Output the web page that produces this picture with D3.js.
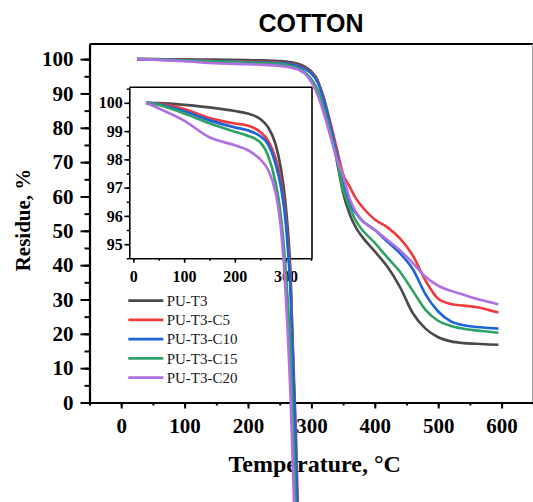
<!DOCTYPE html>
<html><head><meta charset="utf-8">
<script src="https://cdn.jsdelivr.net/npm/d3@7"></script>
<style>body{margin:0;background:#fff}svg{display:block}</style>
</head><body>
<svg id="c" width="533" height="502"></svg>
<script>
const temps = [25,50,100,150,200,225,250,265,280,290,300,310,320,330,340,350,360,370,380,400,420,440,460,480,500,520,540,560,580,595];
const seriesNames = ["PU-T3","PU-T3-C5","PU-T3-C10","PU-T3-C15","PU-T3-C20"];
const puT3    = [100,99.99,99.93,99.84,99.71,99.62,99.43,99.15,98.55,97.75,96.4,93.8,87.5,79.5,70.5,61,55,51,48.3,44,39.5,33.5,26,21.5,19,17.8,17.3,17.1,16.9,16.8];
const puT3C5  = [100,99.97,99.78,99.46,99.27,99.2,98.97,98.68,98.05,97.3,96.0,93.5,88.5,81.5,74,66.5,63,59.5,57,53.3,51,47.7,42.8,35.5,30.2,28.7,28.2,27.8,26.9,26.2];
const puT3C10 = [100,99.95,99.7,99.38,99.13,99.03,98.82,98.55,97.85,97.1,95.8,93.2,88,80.5,72.5,64,58,55.2,53,50.2,46.8,43.4,38.8,31.5,26.5,23.6,22.5,22,21.7,21.5];
const puT3C15 = [100,99.93,99.62,99.28,98.98,98.84,98.6,98.15,97.2,96.1,94.1,91,85.5,78.5,71,62,57,53,50.3,46.5,42.2,38,32.5,27,23.8,22.3,21.5,21,20.6,20.3];
const puT3C20 = [100,99.8,99.37,98.78,98.5,98.33,98.0,97.65,96.85,95.7,93.3,89.5,84,77.5,71,66,59.5,55.5,53,50.3,47.3,44.3,40.6,36.6,34,32.5,31.4,30.2,29.3,28.6];
const seriesValues = [puT3,puT3C5,puT3C10,puT3C15,puT3C20];
const colors = ["#4a4a4a","#ef3b3b","#1c64d8","#2ea266","#b070e2"];
const xTicks = [0,100,200,300,400,500,600];
const yTicks = [0,10,20,30,40,50,60,70,80,90,100];
const insetXTicks = [0,100,200,300];
const insetYTicks = [95,96,97,98,99,100];

const svg = d3.select("#c");
const serif = "'Liberation Serif','Times New Roman',serif";

const x = d3.scaleLinear().domain([-50,650]).range([89.5,533.3]);
const y = d3.scaleLinear().domain([0,104.4]).range([402.5,44]);

// title
svg.append("text").attr("x",311).attr("y",32).attr("text-anchor","middle")
  .style("font-family","'Liberation Sans',Arial,sans-serif").style("font-weight","bold").style("font-size","25px").text("COTTON");

// frame top/right
svg.append("line").attr("x1",89.5).attr("x2",533).attr("y1",44).attr("y2",44).attr("stroke","#000").attr("stroke-width",2);
svg.append("line").attr("x1",532.5).attr("x2",532.5).attr("y1",44).attr("y2",402.5).attr("stroke","#999").attr("stroke-width",1);

// minor ticks
const gxm = svg.append("g").attr("transform","translate(0,402.5)")
  .call(d3.axisBottom(x).tickValues(d3.range(-50,651,50)).tickSize(3).tickFormat(""));
const gym = svg.append("g").attr("transform","translate(89.5,0)")
  .call(d3.axisLeft(y).tickValues(d3.range(0,101,5)).tickSize(5).tickFormat(""));
[gxm,gym].forEach(g=>{g.select(".domain").remove();g.selectAll("line").attr("stroke-width",2);});

const gx = svg.append("g").attr("transform","translate(0,402.5)")
  .call(d3.axisBottom(x).tickValues(xTicks).tickSize(6).tickPadding(10).tickSizeOuter(0).tickFormat(d3.format("d")));
const gy = svg.append("g").attr("transform","translate(89.5,0)")
  .call(d3.axisLeft(y).tickValues(yTicks).tickSize(9).tickPadding(7).tickSizeOuter(0).tickFormat(d3.format("d")));
[gx,gy].forEach(g=>{
  g.select(".domain").attr("stroke-width",2.2);
  g.selectAll(".tick line").attr("stroke-width",2);
  g.selectAll("text").style("font-family",serif).style("font-weight","bold").style("font-size","21px").attr("fill","#000");
});

// axis titles
svg.append("text").attr("x",314.7).attr("y",471.5).attr("text-anchor","middle")
  .style("font-family",serif).style("font-weight","bold").style("font-size","24px").text("Temperature, °C");
svg.append("text").attr("transform","translate(30,220) rotate(-90)").attr("text-anchor","middle")
  .style("font-family",serif).style("font-weight","bold").style("font-size","21px").text("Residue, %");

// main curves
const line = d3.line().x((d,i)=>x(temps[i])).y(d=>y(d)).curve(d3.curveMonotoneX);
seriesValues.forEach((vals,k)=>{
  svg.append("path").attr("d",line(vals)).attr("fill","none").attr("stroke",colors[k]).attr("stroke-width",2.6);
});

// legend
const legY0 = 300.7, legDy = 19.25;
seriesNames.forEach((n,k)=>{
  const yy = legY0 + k*legDy;
  svg.append("line").attr("x1",128.3).attr("x2",163.3).attr("y1",yy).attr("y2",yy).attr("stroke",colors[k]).attr("stroke-width",2.7);
  svg.append("text").attr("x",166.7).attr("y",yy).attr("dy","0.35em")
    .style("font-family",serif).style("font-size","15px").attr("fill","#1a1a1a").text(n);
});

// inset
const ix = d3.scaleLinear().domain([-8,352]).range([129.3,312]);
const iy = d3.scaleLinear().domain([94.5,100.55]).range([258.3,87.3]);
svg.append("line").attr("x1",129.3).attr("x2",312).attr("y1",87.3).attr("y2",87.3).attr("stroke","#000").attr("stroke-width",1.6);
svg.append("line").attr("x1",312).attr("x2",312).attr("y1",87.3).attr("y2",258.3).attr("stroke","#000").attr("stroke-width",1.6);
const igxm = svg.append("g").attr("transform","translate(0,258.3)")
  .call(d3.axisBottom(ix).tickValues(d3.range(0,351,50)).tickSize(2.5).tickFormat(""));
const igym = svg.append("g").attr("transform","translate(129.3,0)")
  .call(d3.axisLeft(iy).tickValues(d3.range(94.5,100.51,0.5)).tickSize(2.5).tickFormat(""));
[igxm,igym].forEach(g=>{g.select(".domain").remove();g.selectAll("line").attr("stroke-width",1.5);});
const igx = svg.append("g").attr("transform","translate(0,258.3)")
  .call(d3.axisBottom(ix).tickValues(insetXTicks).tickSize(4.5).tickPadding(8).tickSizeOuter(0).tickFormat(d3.format("d")));
const igy = svg.append("g").attr("transform","translate(129.3,0)")
  .call(d3.axisLeft(iy).tickValues(insetYTicks).tickSize(5).tickPadding(1.5).tickSizeOuter(0).tickFormat(d3.format("d")));
[igx,igy].forEach(g=>{
  g.select(".domain").attr("stroke-width",1.6);
  g.selectAll(".tick line").attr("stroke-width",1.5);
  g.selectAll("text").style("font-family",serif).style("font-weight","bold").style("font-size","16px").attr("fill","#000");
});
const iline = d3.line().x((d,i)=>ix(temps[i])).y(d=>iy(d)).curve(d3.curveMonotoneX);
seriesValues.forEach((vals,k)=>{
  svg.append("path").attr("d",iline(vals)).attr("fill","none").attr("stroke",colors[k]).attr("stroke-width",2.7);
});
</script>
</body></html>
